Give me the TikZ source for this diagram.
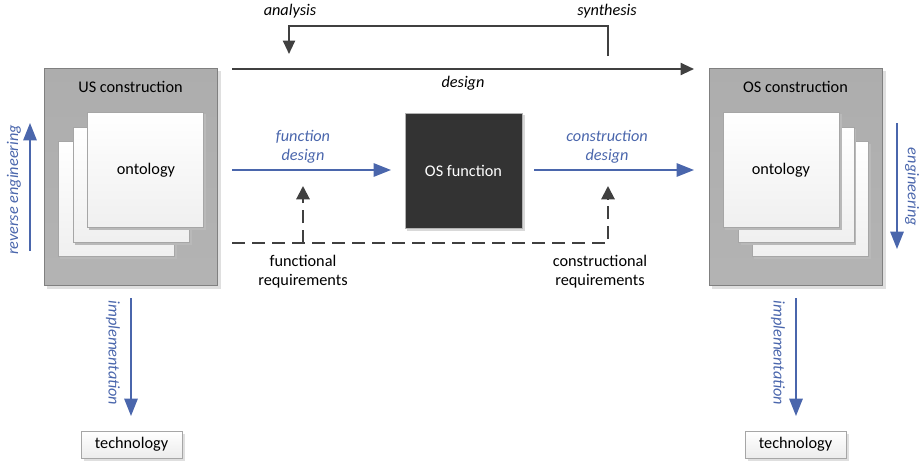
\documentclass[tikz,border=0pt]{standalone}
\usepackage{fontspec}
\setmainfont{Carlito}
\usetikzlibrary{arrows.meta,positioning}
\definecolor{bluearr}{RGB}{74,102,172}
\definecolor{darkarr}{RGB}{64,64,64}
\definecolor{boxgray}{RGB}{166,166,166}
\definecolor{boxborder}{RGB}{128,128,128}
\definecolor{darkbox}{RGB}{51,51,51}
\tikzset{
  lbl/.style={font=\fontsize{12.2}{14.5}\selectfont, align=center, inner sep=0pt},
  ilbl/.style={lbl, font=\fontsize{12.2}{14.5}\selectfont\itshape},
  blbl/.style={ilbl, text=bluearr},
  bigbox/.style={draw=boxborder, line width=0.6pt, top color=boxgray!92, bottom color=boxgray!108!black, minimum width=173*0.75pt, minimum height=217*0.75pt, inner sep=0pt},
  sheet/.style={draw=gray!70, line width=0.5pt, top color=white, bottom color=gray!12, minimum width=116*0.75pt, minimum height=115*0.75pt, inner sep=0pt},
  darrow/.style={draw=darkarr, line width=1.5pt, -{Triangle[length=10pt,width=9pt]}},
  barrow/.style={draw=bluearr, line width=1.4pt, -{Triangle[length=13pt,width=10pt]}},
  dasharrow/.style={draw=darkarr, line width=1.5pt, dash pattern=on 10pt off 5pt, -{Triangle[length=10pt,width=10pt]}},
  techbox/.style={draw=gray!70, line width=0.5pt, top color=white, bottom color=gray!15, minimum width=101*0.75pt, minimum height=27*0.75pt, inner sep=0pt, font=\fontsize{12.2}{14.5}\selectfont},
}
\begin{document}
\begin{tikzpicture}[x=0.75pt,y=-0.75pt]
\useasboundingbox (0,0) rectangle (922,461);
% ---------- US construction ----------
\fill[gray!25] (47,71) rectangle (221,289);
\node[bigbox] (us) at (130.5,176.5) {};
\node[lbl] (ustitle) at (130.5,87) {US construction};
\fill[gray!55] (60,144) rectangle (177,259);
\node[sheet] (us3) at (116,199) {};
\fill[gray!55] (75,129) rectangle (192,245);
\node[sheet] (us2) at (131,184.5) {};
\fill[gray!55] (89,114) rectangle (206,230);
\node[sheet] (us1) at (145,169.5) {};
\node[lbl] (usonto) at (146,170) {ontology};
% ---------- OS construction ----------
\fill[gray!25] (712,71) rectangle (886,289);
\node[bigbox] (os) at (795.5,176.5) {};
\node[lbl] (ostitle) at (795.5,87) {OS construction};
\fill[gray!55] (754,144) rectangle (871,259);
\node[sheet] (os3) at (810,199) {};
\fill[gray!55] (741,129) rectangle (856,245);
\node[sheet] (os2) at (796,184.5) {};
\fill[gray!55] (725,114) rectangle (842,230);
\node[sheet] (os1) at (781,169.5) {};
\node[lbl] (osonto) at (781,170) {ontology};
% ---------- OS function ----------
\fill[gray!30] (407,115) rectangle (525,231);
\node[draw=gray!60, fill=darkbox, minimum width=117*0.75pt, minimum height=115*0.75pt, inner sep=0pt, text=white, font=\fontsize{12.2}{14.5}\selectfont] (osf) at (463.5,170.5) {OS function};
% ---------- top arrows ----------
\coordinate (dstart) at (232,69);
\coordinate (dend) at (694,69);
\draw[darrow] (dstart) -- (dend);
\node[ilbl] (design) at (463,83) {design};
\coordinate (synth) at (608,56);
\coordinate (anal) at (289,54);
\draw[darrow] (synth) |- (448,26) -| (anal);
\node[ilbl] (analysis) at (290,11) {analysis};
\node[ilbl] (synthesis) at (607,11) {synthesis};
% ---------- middle arrows ----------
\coordinate (fdstart) at (232,170);
\coordinate (fdend) at (391,170);
\draw[barrow] (fdstart) -- (fdend);
\node[blbl] (fdlbl) at (303,147) {function\\design};
\coordinate (cdstart) at (534,170);
\coordinate (cdend) at (694,170);
\draw[barrow] (cdstart) -- (cdend);
\node[blbl] (cdlbl) at (607,147) {construction\\design};
% ---------- dashed requirements ----------
\coordinate (dl) at (232,243);
\coordinate (fb) at (303,243);
\coordinate (fr) at (303,186);
\coordinate (cr) at (608,186);
\draw[dasharrow] (dl) -| (cr);
\draw[dasharrow] (fb) -- (fr);
\node[lbl] (frlbl) at (303,271.5) {functional\\requirements};
\node[lbl] (crlbl) at (600,271.5) {constructional\\requirements};
% ---------- side arrows ----------
\coordinate (rs) at (30,251);
\coordinate (re) at (30,123);
\draw[barrow] (rs) -- (re);
\node[blbl, rotate=90] (revlbl) at (14,190) {reverse engineering};
\coordinate (es) at (897,123);
\coordinate (ee) at (897,249);
\draw[barrow] (es) -- (ee);
\node[blbl, rotate=-90] (englbl) at (912,187) {engineering};
% ---------- implementation ----------
\fill[gray!25] (84,434) rectangle (185,461);
\node[techbox] (tech1) at (131.5,444.5) {technology};
\fill[gray!25] (748,434) rectangle (849,461);
\node[techbox] (tech2) at (795.5,444.5) {technology};
\coordinate (i1s) at (131,298);
\coordinate (i1e) at (131,416);
\draw[barrow] (i1s) -- (i1e);
\node[blbl, rotate=-90] (imp1) at (113,353) {implementation};
\coordinate (i2s) at (796,298);
\coordinate (i2e) at (796,416);
\draw[barrow] (i2s) -- (i2e);
\node[blbl, rotate=-90] (imp2) at (778,353) {implementation};
\end{tikzpicture}
\end{document}
